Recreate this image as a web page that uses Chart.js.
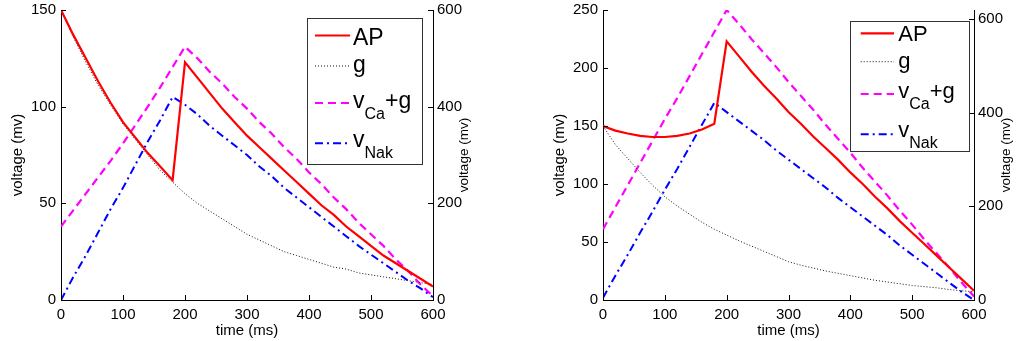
<!DOCTYPE html>
<html>
<head>
<meta charset="utf-8">
<script src="https://cdn.jsdelivr.net/npm/chart.js@4.4.0/dist/chart.umd.min.js"></script>
<style>
body{margin:0;background:#fff;}
canvas{position:absolute;top:0;}
</style>
</head>
<body>
<canvas id="left" width="509" height="341" style="left:0"></canvas>
<canvas id="right" width="509" height="341" style="left:509px"></canvas>
<script>
// time axis (ms), shared by every series
const time = [0,20,40,60,80,100,120,140,160,180,200,220,240,260,280,300,320,340,360,380,400,420,440,460,480,500,520,540,560,580,600];

// left panel
const apLeft  = [150,137,125,113,102,92,84,76,69,62,123,115,107,99,92,85,79,73,67,61,55,49,44,38,33,28,23,19,15,11,7];
const gLeft   = [150,136,123,111,101,91,83,75,67,61,55,50,46,42,38,34,31,28,25,23,21,19,17,16,14,13,12,11,10,9,8];
const caLeft  = [38,46.5,55,63.5,72,81,90.5,100,110,120.5,131,125,118,112,105,99,92,86,79,73,66,60,53,47,40,34,28,21,15,8,2];
const nakLeft = [0,12,23,35,47,58,70,82,93,105,101,96,90,85,80,75,69,64,58,53,48,43,38,33,28,23.5,19,14.5,10,6,1.5];

// right panel
const apRight  = [150,146,143.5,141.5,140.5,140.5,141.5,143.5,147,152,223,210,197,185,174,162,152,141,131,121,110,100,89,79,68,58,48,38,28,18,8];
const gRight   = [150,134,122,110,99,89,81,74,67,61,56,51,46.5,42,37.5,33,30,27.5,25,23,21,19,17,15.5,14,12.5,11.5,10.5,9,8,7];
const caRight  = [61,80,99,118,137,156,174,193,212,231,250,238,225,213,201,188,176,164,151,139,127,114,102,90,77,65,52,40,28,15,3];
const nakRight = [2,21,39,58,76,95,113,132,151,170,162,154,146,138,129,121,113,105,97,88,80,72,64,56,47,39,31,23,15,7,0];

// ticks
const timeTicks   = [0,100,200,300,400,500,600];
const leftTicks   = [0,50,100,150];
const rightTicks  = [0,50,100,150,200,250];
const y2Ticks     = [0,200,400,600];

const seriesNames = ['AP','g','vCa+g','vNak'];
// legend text split into main / subscript / tail
const legendParts = [['AP','',''],['g','',''],['v','Ca','+g'],['v','Nak','']];
const xTitle = 'time (ms)';
const yTitle = 'voltage (mv)';

const FONT = '"Liberation Sans", Arial, Helvetica, sans-serif';
Chart.defaults.font.family = FONT;
Chart.defaults.color = '#000';

function seriesData(values){
	return time.map((t, i) => ({x: t, y: values[i]}));
}

function fixedTicks(values){
	return scale => { scale.ticks = values.map(v => ({value: v})); };
}

// fixed box size, and no extra room for labels sticking out
function fixWidth(w){
	return s => { s.width = w; s.paddingTop = 0; s.paddingBottom = 0; };
}

// matlab style ticks pointing into the plot box
const innerTicks = {
	id: 'innerTicks',
	afterDatasetsDraw(chart){
		const {ctx, chartArea: a, scales} = chart;
		ctx.save();
		ctx.strokeStyle = '#000';
		ctx.lineWidth = 1;
		ctx.beginPath();
		scales.x.ticks.forEach(t => {
			const px = Math.round(scales.x.getPixelForValue(t.value)) + 0.5;
			ctx.moveTo(px, a.bottom); ctx.lineTo(px, a.bottom - 5);
		});
		scales.y.ticks.forEach(t => {
			const py = Math.round(scales.y.getPixelForValue(t.value)) + 0.5;
			ctx.moveTo(a.left, py); ctx.lineTo(a.left + 5, py);
		});
		scales.y2.ticks.forEach(t => {
			const py = Math.round(scales.y2.getPixelForValue(t.value)) + 0.5;
			ctx.moveTo(a.right, py); ctx.lineTo(a.right - 5, py);
		});
		ctx.stroke();
		ctx.restore();
	}
};

// right axis title reads bottom-to-top like the left one
const rightTitle = {
	id: 'rightTitle',
	afterDraw(chart, args, o){
		const {ctx, chartArea: a} = chart;
		ctx.save();
		ctx.translate(a.right + o.dx, (a.top + a.bottom) / 2);
		ctx.rotate(-Math.PI / 2);
		ctx.textAlign = 'center';
		ctx.textBaseline = 'middle';
		ctx.fillStyle = '#000';
		ctx.font = o.size + 'px ' + FONT;
		ctx.fillText(yTitle, 0, 0);
		ctx.restore();
	}
};

// boxed legend with subscripts
const boxLegend = {
	id: 'boxLegend',
	afterDraw(chart, args, o){
		const ctx = chart.ctx;
		ctx.save();
		ctx.fillStyle = '#fff';
		ctx.fillRect(o.x, o.y, o.w, o.h);
		ctx.strokeStyle = '#333';
		ctx.lineWidth = 1;
		ctx.strokeRect(Math.round(o.x) + 0.5, Math.round(o.y) + 0.5, Math.round(o.w), Math.round(o.h));
		chart.data.datasets.forEach((ds, i) => {
			const ly = o.rows[i];
			ctx.beginPath();
			ctx.strokeStyle = ds.borderColor;
			ctx.lineWidth = ds.borderWidth;
			ctx.setLineDash(ds.borderDash || []);
			ctx.moveTo(o.x0, ly); ctx.lineTo(o.x1, ly);
			ctx.stroke();
			ctx.setLineDash([]);
			const p = legendParts[i];
			const base = ly + o.base[i];
			let x = o.tx;
			ctx.fillStyle = '#000';
			ctx.textBaseline = 'alphabetic';
			ctx.textAlign = 'left';
			ctx.font = o.size + 'px ' + FONT;
			ctx.fillText(p[0], x, base);
			x += ctx.measureText(p[0]).width;
			if (p[1]){
				ctx.font = o.sub + 'px ' + FONT;
				ctx.fillText(p[1], x, base + 11);
				x += ctx.measureText(p[1]).width;
			}
			if (p[2]){
				ctx.font = o.size + 'px ' + FONT;
				ctx.fillText(p[2], x, base);
			}
		});
		ctx.restore();
	}
};

function buildChart(id, cfg){
	const datasets = [
		{label: seriesNames[0], data: seriesData(cfg.ap), borderColor: '#ff0000', borderWidth: 2.2},
		{label: seriesNames[1], data: seriesData(cfg.g), borderColor: '#111111', borderWidth: 1, borderDash: [1, 2]},
		{label: seriesNames[2], data: seriesData(cfg.ca), borderColor: '#ff00ff', borderWidth: 2.2, borderDash: [8, 5]},
		{label: seriesNames[3], data: seriesData(cfg.nak), borderColor: '#0000ff', borderWidth: 2, borderDash: [8, 4, 2, 4]}
	];
	const config = {
		type: 'line',
		data: {datasets: datasets},
		options: {
			responsive: false,
			animation: false,
			devicePixelRatio: 1,
			layout: {padding: {top: 10, left: 0, right: 0, bottom: 0}},
			elements: {point: {radius: 0}, line: {tension: 0, fill: false}},
			plugins: {
				legend: {display: false},
				tooltip: {enabled: false},
				rightTitle: {dx: cfg.rtDx, size: 13.5},
				boxLegend: cfg.legend
			},
			scales: {
				x: {
					type: 'linear', min: 0, max: 600,
					afterBuildTicks: fixedTicks(timeTicks),
					afterFit: s => { s.height = 41; },
					grid: {display: false, drawTicks: false},
					border: {display: true, color: '#000', width: 1},
					ticks: {padding: 6, autoSkip: false, maxRotation: 0, font: {size: 15}},
					title: {display: true, text: xTitle, font: {size: 15}, padding: {top: 0, bottom: 1}}
				},
				y: {
					position: 'left', min: 0, max: cfg.yMax,
					afterBuildTicks: fixedTicks(cfg.yTicks),
					afterFit: fixWidth(cfg.leftW),
					grid: {display: false, drawTicks: false},
					border: {display: true, color: '#000', width: 1},
					ticks: {padding: 5, autoSkip: false, font: {size: 15}},
					title: {display: true, text: yTitle, font: {size: 15}, padding: {top: cfg.titlePad, bottom: 0}}
				},
				y2: {
					position: 'right', min: 0, max: cfg.y2Max,
					afterBuildTicks: fixedTicks(y2Ticks),
					afterFit: fixWidth(cfg.rightW),
					grid: {display: false, drawTicks: false},
					border: {display: true, color: '#000', width: 1},
					ticks: {padding: 4, autoSkip: false, font: {size: 15}}
				}
			}
		},
		plugins: [innerTicks, rightTitle, boxLegend]
	};
	let ctx = document.getElementById(id).getContext('2d');
	return new Chart(ctx, config);
}

buildChart('left', {
	ap: apLeft, g: gLeft, ca: caLeft, nak: nakLeft,
	yMax: 150, yTicks: leftTicks, y2Max: 600,
	leftW: 61, rightW: 76, titlePad: 8.5, rtDx: 30.8,
	legend: {x: 306.7, y: 18.3, w: 115, h: 145.7, x0: 315, x1: 350, tx: 353,
		rows: [35.5, 66, 103, 143.3], base: [9, 6, 4.5, 4], size: 23, sub: 16}
});

buildChart('right', {
	ap: apRight, g: gRight, ca: caRight, nak: nakRight,
	yMax: 250, yTicks: rightTicks, y2Max: 619,
	leftW: 94, rightW: 44, titlePad: 42, rtDx: 32.7,
	legend: {x: 341, y: 21, w: 119.3, h: 129.7, x0: 351.7, x1: 385, tx: 389.3,
		rows: [33.3, 61.7, 94, 134.3], base: [8, 6.5, 3.5, 3], size: 22, sub: 16}
});
</script>
</body>
</html>
